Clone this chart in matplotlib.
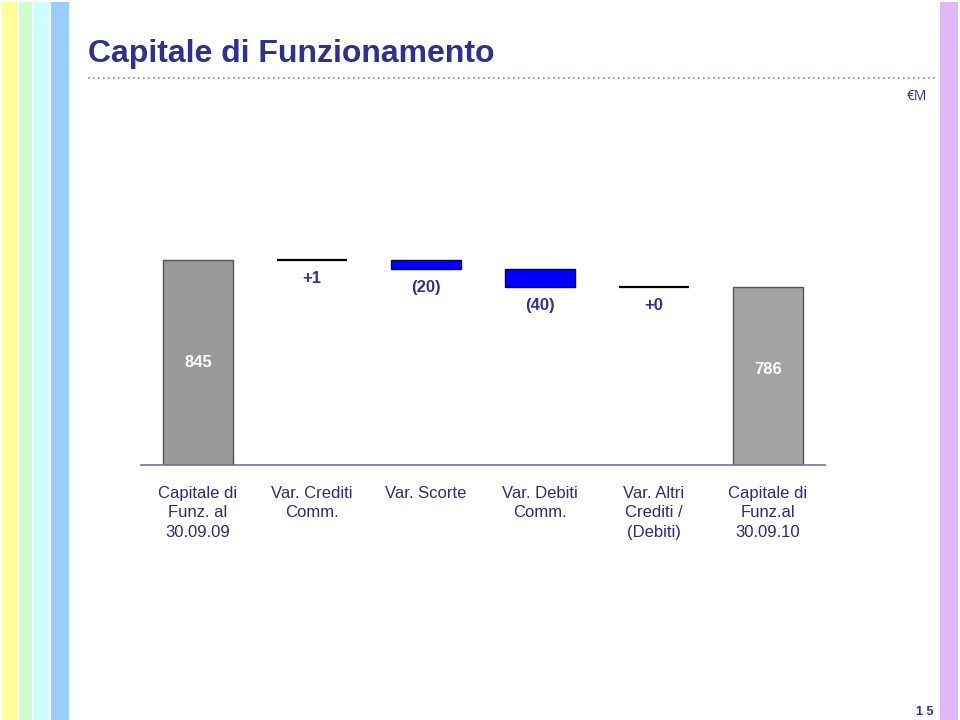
import matplotlib
matplotlib.use("Agg")
import matplotlib.pyplot as plt
from matplotlib.patches import Rectangle
from matplotlib.lines import Line2D

plt.rcParams['font.family'] = ['Liberation Sans', 'DejaVu Sans']

categories = ["Capitale di\nFunz. al\n30.09.09", "Var. Crediti\nComm.", "Var. Scorte",
              "Var. Debiti\nComm.", "Var. Altri\nCrediti /\n(Debiti)", "Capitale di\nFunz.al\n30.09.10"]
start_value = 845
deltas = [1, -20, -40, 0.3]
end_value = 786
delta_labels = ["+1", "(20)", "(40)", "+0"]
total_labels = ["845", "786"]

navy = "#2E3092"
fig = plt.figure(figsize=(9.6, 7.2), dpi=100)

# decorative strips
def strip(x0, x1, color, y0=2, y1=720):
    fig.add_artist(Rectangle((x0 / 960, 1 - y1 / 720), (x1 - x0) / 960, (y1 - y0) / 720,
                             transform=fig.transFigure, color=color, lw=0))
strip(2, 17, "#FFFF99")
strip(19, 32, "#CCFFCC")
strip(34, 49, "#CCFFFF")
strip(51, 69, "#99CCFF")
strip(940, 958, "#DDB8F8")

fig.text(88 / 960, 1 - 54 / 720, "Capitale di Funzionamento", fontsize=23, fontweight="bold",
         color=navy, va="center", ha="left")
fig.add_artist(Line2D([88 / 960, 936 / 960], [1 - 78 / 720] * 2, transform=fig.transFigure,
                      color="#B070D8", lw=1.2, ls=(0, (1, 2))))
fig.text(927 / 960, 1 - 96 / 720, "€M", fontsize=10, color=navy, ha="right", va="center",
         family=["Open Sans", "DejaVu Sans"])
fig.text(934 / 960, 1 - 712 / 720, "1 5", fontsize=9, fontweight="bold", color="#1F3A7A",
         ha="right", va="center")

ax = fig.add_axes([141 / 960, (720 - 465) / 720, 684 / 960, 225 / 720])
ybase = 397
ax.set_xlim(-0.5, 5.5)
ax.set_ylim(ybase, 889)
for s in ["top", "right", "left"]:
    ax.spines[s].set_visible(False)
ax.spines["bottom"].set_color("#7070A0")
ax.spines["bottom"].set_linewidth(1.2)
ax.set_yticks([])
ax.set_xticks(range(len(categories)))
ax.set_xticklabels(categories, fontsize=12, color="#2B2B78", linespacing=1.38)
ax.tick_params(axis="x", length=0, pad=15)

w = 0.62
ax.bar(0, start_value, width=w, color="#999999", edgecolor="#555555", lw=1)
ax.bar(5, end_value, width=w, color="#A3A3A3", edgecolor="#555555", lw=1)
for i, (v, lab) in enumerate(zip([start_value, end_value], total_labels)):
    x = 0 if i == 0 else 5
    ax.text(x, (ybase + v) / 2 + (0 if i == 0 else 15), lab, color="white", fontsize=12,
            fontweight="bold", ha="center", va="center")

level = start_value
for i, (d, lab) in enumerate(zip(deltas, delta_labels)):
    x = i + 1
    new = level + d
    lo, hi = min(level, new), max(level, new)
    if abs(d) < 2:
        ax.plot([x - w / 2, x + w / 2], [hi, hi], color="black", lw=1.6, solid_capstyle="butt")
    else:
        ax.bar(x, hi - lo, bottom=lo, width=w, color="#0000FF", edgecolor="#000066", lw=1)
    ax.annotate(lab, (x, lo), xytext=(0, -13.5), textcoords="offset points", ha="center",
                va="center", fontsize=12, fontweight="bold", color=navy)
    level = new

fig.savefig("out.png", dpi=100)
